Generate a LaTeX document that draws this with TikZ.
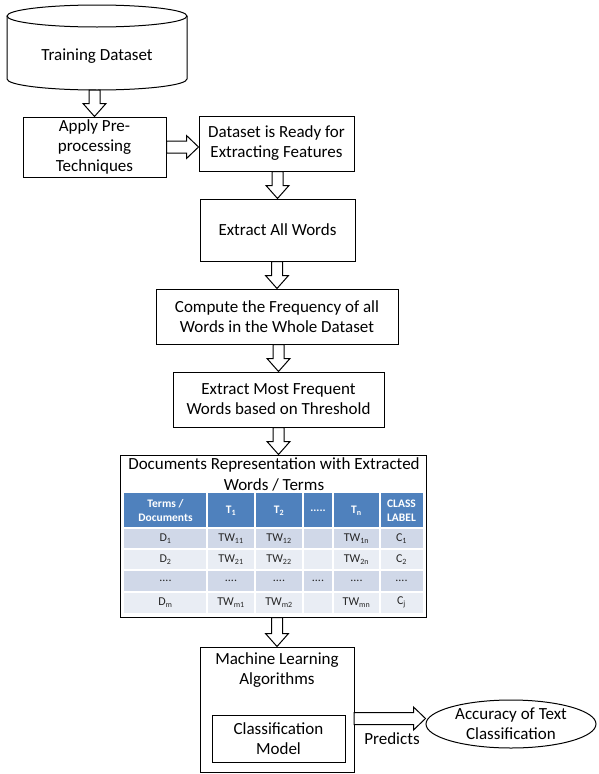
\documentclass[tikz,border=0pt]{standalone}
\usepackage{fontspec}
\setmainfont{Carlito}
\usetikzlibrary{calc,shapes.geometric}
\definecolor{hdrblue}{HTML}{4F81BD}
\definecolor{rowA}{HTML}{D0D8E8}
\definecolor{rowB}{HTML}{E9EDF4}
\tikzset{
  box/.style={draw, line width=1pt, align=center, inner sep=1pt, font=\fontsize{17}{20}\selectfont},
  txt/.style={align=center, inner sep=0pt, font=\fontsize{17}{20}\selectfont},
  tb/.style={align=center, inner sep=0pt, text=black!85, font=\fontsize{12}{13}\selectfont},
  th/.style={align=center, inner sep=0pt, text=white, font=\bfseries\fontsize{11.5}{14}\selectfont},
  darr/.style={draw, line width=1pt, fill=white, to path={let \p1=(\tikztostart),\p2=(\tikztotarget) in
     (\x2-5.5pt,\y1) -- (\x2-5.5pt,\y2+13pt) -- (\x2-11.5pt,\y2+13pt) -- (\x2,\y2) --
     (\x2+11.5pt,\y2+13pt) -- (\x2+5.5pt,\y2+13pt) -- (\x2+5.5pt,\y1) -- cycle}},
  rarr/.style={draw, line width=1pt, fill=white, to path={let \p1=(\tikztostart),\p2=(\tikztotarget) in
     (\x1,\y1+6pt) -- (\x2-12pt,\y1+6pt) -- (\x2-12pt,\y1+11.5pt) -- (\x2,\y1) --
     (\x2-12pt,\y1-11.5pt) -- (\x2-12pt,\y1-6pt) -- (\x1,\y1-6pt) -- cycle}}
}
\begin{document}
\begin{tikzpicture}[x=1pt,y=-1pt]
\useasboundingbox (0,0) rectangle (598,774);
% cylinder
\draw[line width=1pt, fill=white] (7,16) -- (7,79) arc[start angle=180,end angle=360,x radius=90pt,y radius=11pt] -- (187,16);
\draw[line width=1pt] (97,16) ellipse[x radius=90pt,y radius=11pt];
\node[txt] (train) at (97,56) {Training Dataset};
\coordinate (trainbot) at (97,90);
% boxes
\node[box, minimum width=143pt, minimum height=60pt] (apply) at (94.5,147) {Apply Pre-\\processing\\Techniques};
\node[box, minimum width=155pt, minimum height=55pt] (ready) at (276.5,143.5) {Dataset is Ready for\\Extracting Features};
\node[box, minimum width=155pt, minimum height=62pt] (allw) at (277.5,230) {Extract All Words};
\node[box, minimum width=242pt, minimum height=55pt] (freq) at (277,316.5) {Compute the Frequency of all\\Words in the Whole Dataset};
\node[box, minimum width=211pt, minimum height=55pt] (most) at (278.5,399.5) {Extract Most Frequent\\Words based on Threshold};
% table box
\node[draw, line width=1pt, minimum width=306pt, minimum height=162pt, inner sep=0pt] (docs) at (273,536) {};
\node[txt] (title1) at (274,465) {Documents Representation with Extracted};
\node[txt] (title2) at (274,485) {Words / Terms};
% table cells
\fill[hdrblue] (124,493) rectangle (423,528);
\fill[rowA] (124,528) rectangle (423,549);
\fill[rowB] (124,549) rectangle (423,570);
\fill[rowA] (124,570) rectangle (423,592);
\fill[rowB] (124,592) rectangle (423,613);
\foreach \cx in {207,255,303,333,380}{\draw[white, line width=1.2pt] (\cx,493) -- (\cx,613);}
\foreach \ry in {528,549,570,592}{\draw[white, line width=1.2pt] (124,\ry) -- (423,\ry);}
\draw[white, line width=2pt] (124,528) -- (423,528);
% header
\node[th] (h1) at (165.5,510.5) {Terms /\\Documents};
\node[th] (h2) at (231,510.5) {T\textsubscript{1}};
\node[th] (h3) at (279,510.5) {T\textsubscript{2}};
\node[th] (h4) at (318,510.5) {.....};
\node[th] (h5) at (356.5,510.5) {T\textsubscript{n}};
\node[th] (h6) at (401.5,510.5) {CLASS\\LABEL};
% row 1
\node[tb] (a1) at (165.5,538.5) {D\textsubscript{1}};
\node[tb] (a2) at (231,538.5) {TW\textsubscript{11}};
\node[tb] (a3) at (279,538.5) {TW\textsubscript{12}};
\node[tb] (a5) at (356.5,538.5) {TW\textsubscript{1n}};
\node[tb] (a6) at (401.5,538.5) {C\textsubscript{1}};
% row 2
\node[tb] (b1) at (165.5,559.5) {D\textsubscript{2}};
\node[tb] (b2) at (231,559.5) {TW\textsubscript{21}};
\node[tb] (b3) at (279,559.5) {TW\textsubscript{22}};
\node[tb] (b5) at (356.5,559.5) {TW\textsubscript{2n}};
\node[tb] (b6) at (401.5,559.5) {C\textsubscript{2}};
% row 3
\node[tb] (c1) at (165.5,581) {....};
\node[tb] (c2) at (231,581) {....};
\node[tb] (c3) at (279,581) {....};
\node[tb] (c4) at (318,581) {....};
\node[tb] (c5) at (356.5,581) {....};
\node[tb] (c6) at (401.5,581) {....};
% row 4
\node[tb] (d1) at (165.5,602.5) {D\textsubscript{m}};
\node[tb] (d2) at (231,602.5) {TW\textsubscript{m1}};
\node[tb] (d3) at (279,602.5) {TW\textsubscript{m2}};
\node[tb] (d5) at (356.5,602.5) {TW\textsubscript{mn}};
\node[tb] (d6) at (401.5,602.5) {C\textsubscript{j}};
% ML box
\node[draw, line width=1pt, minimum width=154pt, minimum height=125pt, inner sep=0pt] (ml) at (277,709.5) {};
\node[txt] (mltext) at (277,670) {Machine Learning\\Algorithms};
\node[box, minimum width=133pt, minimum height=47pt] (cm) at (278.5,738.5) {Classification\\Model};
\node[draw, line width=1pt, ellipse, minimum width=170pt, minimum height=48pt, inner sep=0pt, align=center, font=\fontsize{17}{20}\selectfont] (acc) at (511,724) {Accuracy of Text\\Classification};
\coordinate (pstart) at (354,718.5);
\node[txt] (pred) at (392,739) {Predicts};
% arrows
\draw[darr] (trainbot) to (apply.north);
\draw[rarr] (apply.east) to (ready.west);
\draw[darr] (ready.south) to (allw.north);
\draw[darr] (allw.south) to (freq.north);
\draw[darr] (freq.south) to (most.north);
\draw[darr] (most.south) to (docs.north -| most.south);
\draw[darr] (docs.south) to (ml.north);
\draw[rarr] (pstart) to (acc.west);
\end{tikzpicture}
\end{document}
